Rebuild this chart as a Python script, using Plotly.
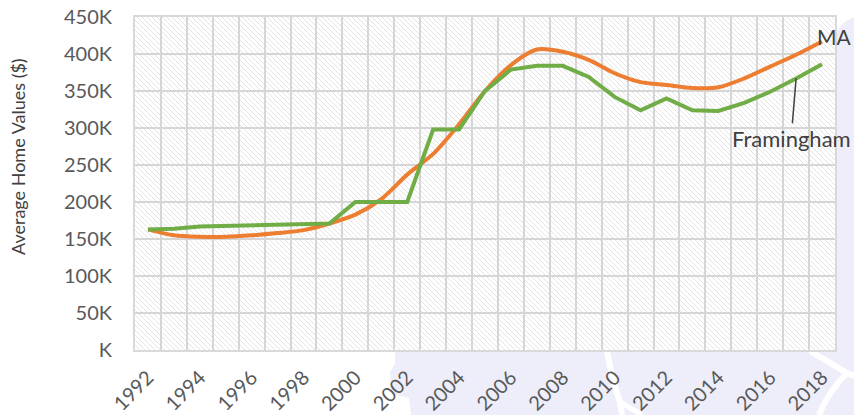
import base64
import plotly.graph_objects as go

years = list(range(1992, 2019))
ma_values = [163000, 155000, 153000, 153000, 155000, 158000, 162000, 171000, 183000, 204000,
             237000, 265000, 305000, 350000, 385000, 406000, 403000, 392000, 374000, 362000,
             358000, 354000, 355000, 367000, 383000, 399000, 417000]
framingham_values = [163000, 164000, 167000, 168000, 168500, 169500, 170000, 171000, 200000, 200000,
                     200000, 298000, 298000, 350000, 379000, 384000, 384000, 369000, 342000, 324000,
                     340000, 324000, 323000, 334000, 349000, 367000, 386000]
x_tick_years = list(range(1992, 2019, 2))
x_tick_labels = [str(y) for y in x_tick_years]
y_tick_values = list(range(0, 450001, 50000))
y_tick_labels = ["K"] + [f"{v // 1000}K" for v in y_tick_values[1:]]

W, H = 854, 415
ML, MR, MT, MB = 135, 19, 17, 65
PW, PH = W - ML - MR, H - MT - MB

FONT = "Lato"
TICK_COLOR = "#595959"
GRID = "#d6d6d6"

# Background decoration (hatched plot area + lavender backdrop) as an SVG image
svg = f'''<svg xmlns="http://www.w3.org/2000/svg" width="{W}" height="{H}" viewBox="0 0 {W} {H}">
<defs>
<pattern id="h" patternUnits="userSpaceOnUse" width="5" height="5">
<path d="M0,0 L5,5 M-1,4 L1,6 M4,-1 L6,1" stroke="#e4e4e4" stroke-width="1"/>
</pattern>
</defs>
<rect x="0" y="0" width="{W}" height="{H}" fill="#ffffff"/>
<path d="M395,351 L835,351 L835,36 Q840,22 854,17 L854,415 L411,415 L409,398 L392,394 L390,372 L395,364 Z" fill="#eeeefb"/>
<path d="M607,351 Q612,380 620,402 L622,415" stroke="#ffffff" stroke-width="6" fill="none"/>
<path d="M620,402 L642,415" stroke="#ffffff" stroke-width="5" fill="none"/>
<path d="M810,351 L847,373 L854,376" stroke="#ffffff" stroke-width="6" fill="none"/>
<path d="M847,373 Q828,392 819,415" stroke="#ffffff" stroke-width="6" fill="none"/>
<rect x="{ML}" y="{MT}" width="{PW}" height="{PH}" fill="#ffffff"/>
<rect x="{ML}" y="{MT}" width="{PW}" height="{PH}" fill="url(#h)"/>
</svg>'''
svg_uri = "data:image/svg+xml;base64," + base64.b64encode(svg.encode()).decode()

fig = go.Figure()
fig.add_trace(go.Scatter(x=years, y=ma_values, mode="lines", name="MA",
                         line=dict(color="#ED7D31", width=4, shape="spline", smoothing=0.8)))
fig.add_trace(go.Scatter(x=years, y=framingham_values, mode="lines", name="Framingham",
                         line=dict(color="#70AD47", width=4)))

fig.add_layout_image(dict(source=svg_uri, xref="paper", yref="paper",
                          x=-ML / PW, y=1 + MT / PH, sizex=W / PW, sizey=H / PH,
                          xanchor="left", yanchor="top", sizing="stretch", layer="below"))

fig.update_layout(
    width=W, height=H,
    margin=dict(l=ML, r=MR, t=MT, b=MB, autoexpand=False),
    paper_bgcolor="rgba(0,0,0,0)", plot_bgcolor="rgba(0,0,0,0)",
    showlegend=False,
    font=dict(family=FONT, color=TICK_COLOR, size=20),
    xaxis=dict(range=[1991.5, 2018.5], tickmode="array", tickvals=x_tick_years,
               ticktext=x_tick_labels, tickangle=-45, showgrid=False, zeroline=False,
               automargin=False,
               tickfont=dict(size=20, color=TICK_COLOR), ticks="", ticklabelstandoff=6,
               showline=True, linecolor="#d9d9d9", linewidth=2, mirror=True,
               minor=dict(tickmode="linear", tick0=1991.5, dtick=1, showgrid=True,
                          gridcolor=GRID, gridwidth=2, ticks="")),
    yaxis=dict(range=[0, 450000], tickmode="array", tickvals=y_tick_values,
               ticktext=y_tick_labels, showgrid=True, gridcolor=GRID, gridwidth=2,
               zeroline=False, automargin=False,
               tickfont=dict(size=20, color=TICK_COLOR), ticks="",
               ticklabelstandoff=17, showline=True, linecolor="#d9d9d9", linewidth=2,
               mirror=True),
)

fig.add_annotation(xref="paper", yref="paper", x=(18 - ML) / PW, y=(MT + PH - 157) / PH,
                   xanchor="center", yanchor="middle",
                   text="Average Home Values ($)", textangle=-90, showarrow=False,
                   font=dict(family=FONT, size=18, color="#404040"))
fig.add_annotation(xref="paper", yref="paper", x=(853 - ML) / PW, y=(MT + PH - 37) / PH,
                   text="MA", showarrow=False, xanchor="right", yanchor="middle",
                   font=dict(family=FONT, size=21, color="#404040"))
fig.add_annotation(x=years[-2], y=framingham_values[-2], text="Framingham", showarrow=True,
                   arrowhead=0, arrowwidth=1.5, arrowcolor="#404040", ax=-5, ay=60,
                   font=dict(family=FONT, size=22, color="#404040"))

fig.write_html("out.html", config={"displayModeBar": False},
               post_script="document.body.style.margin='0';")
